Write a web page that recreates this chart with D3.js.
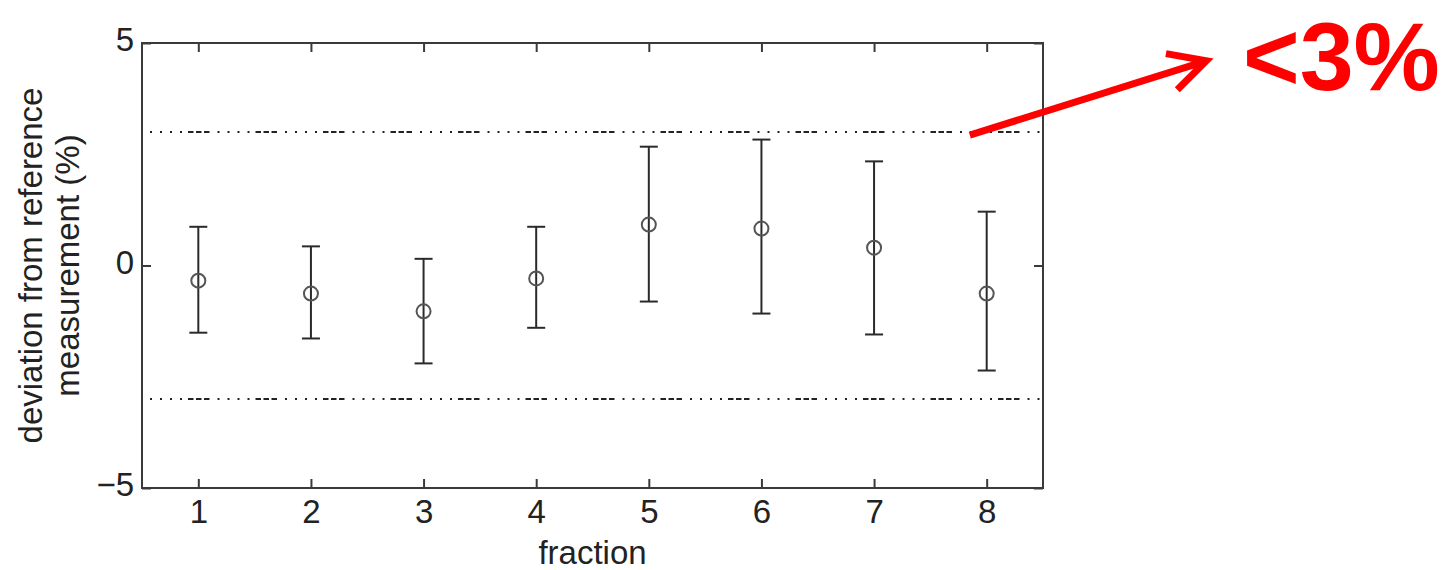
<!DOCTYPE html>
<html>
<head>
<meta charset="utf-8">
<script src="https://cdn.jsdelivr.net/npm/d3@7"></script>
<style>
  html, body { margin: 0; padding: 0; background: #fff; }
  svg { display: block; }
  text { font-family: "Liberation Sans", Arial, sans-serif; }
</style>
</head>
<body>
<svg id="chart" width="1449" height="570"></svg>
<script>
// ---- data ----
const fractions = [1, 2, 3, 4, 5, 6, 7, 8];
const meanDeviation = [-0.34, -0.63, -1.03, -0.29, 0.92, 0.83, 0.40, -0.63];
const upperBound   = [0.87, 0.43, 0.15, 0.87, 2.67, 2.83, 2.34, 1.21];
const lowerBound   = [-1.51, -1.64, -2.20, -1.40, -0.81, -1.08, -1.55, -2.36];
const limitLines = [3, -3];
const xTicks = [1, 2, 3, 4, 5, 6, 7, 8];
const yTicks = [-5, 0, 5];
const annotationText = "<3%";

// ---- layout ----
const svg = d3.select("#chart");
const plot = { left: 142, right: 1043, top: 43, bottom: 488 };
const x = d3.scaleLinear().domain([0.5, 8.5]).range([plot.left, plot.right]);
const y = d3.scaleLinear().domain([-5, 5]).range([plot.bottom, plot.top]);
const axisColor = "#3a3a3a";
const tickLen = 9;

// limit lines (dash-dot pattern)
svg.append("g").selectAll("line").data(limitLines).join("line")
  .attr("x1", x(0.5) + 8).attr("x2", x(8.5) - 2)
  .attr("y1", d => y(d)).attr("y2", d => y(d))
  .attr("stroke", "#222").attr("stroke-width", 2)
  .attr("stroke-dasharray", "2,8,2,8,2,8,2,6,5.5,2.5,5.5,2.5,5.5,8");

// frame
svg.append("rect")
  .attr("x", plot.left).attr("y", plot.top)
  .attr("width", plot.right - plot.left).attr("height", plot.bottom - plot.top)
  .attr("fill", "none").attr("stroke", axisColor).attr("stroke-width", 2);

// axes via d3 (inner ticks on all sides)
const fontSize = 33;
const bottomAxis = d3.axisBottom(x).tickValues(xTicks).tickSize(-tickLen).tickPadding(tickLen + 6).tickFormat(d3.format("d"));
const gB = svg.append("g").attr("transform", `translate(0,${plot.bottom})`).call(bottomAxis);
const topAxis = d3.axisTop(x).tickValues(xTicks).tickSize(-tickLen).tickFormat("");
const gT = svg.append("g").attr("transform", `translate(0,${plot.top})`).call(topAxis);
const leftAxis = d3.axisLeft(y).tickValues(yTicks).tickSize(-tickLen).tickPadding(8)
  .tickFormat(d => d < 0 ? "\u2212" + Math.abs(d) : String(d));
const gL = svg.append("g").attr("transform", `translate(${plot.left},0)`).call(leftAxis);
const rightAxis = d3.axisRight(y).tickValues(yTicks).tickSize(-tickLen).tickFormat("");
const gR = svg.append("g").attr("transform", `translate(${plot.right},0)`).call(rightAxis);

[gB, gT, gL, gR].forEach(g => {
  g.select(".domain").remove();
  g.selectAll(".tick line").attr("stroke", axisColor).attr("stroke-width", 2);
  g.selectAll("text").attr("font-size", fontSize).attr("fill", "#222")
    .style("font-family", "'Liberation Sans', Arial, sans-serif");
});
gB.selectAll("text").attr("dy", null).attr("y", 35);
gL.selectAll("text").attr("dy", "0.33em").attr("transform", "translate(0,-3)");

// axis labels
svg.append("text")
  .attr("x", (plot.left + plot.right) / 2).attr("y", 564)
  .attr("text-anchor", "middle").attr("font-size", fontSize).attr("fill", "#222")
  .text("fraction");

const yLabel = svg.append("g")
  .attr("transform", `translate(0,${(plot.top + plot.bottom) / 2}) rotate(-90)`);
yLabel.append("text").attr("x", 0).attr("y", 42)
  .attr("text-anchor", "middle").attr("font-size", fontSize).attr("fill", "#222")
  .text("deviation from reference");
yLabel.append("text").attr("x", 0).attr("y", 79)
  .attr("text-anchor", "middle").attr("font-size", fontSize).attr("fill", "#222")
  .text("measurement (%)");

// error bars
const data = fractions.map((f, i) => ({ f, m: meanDeviation[i], hi: upperBound[i], lo: lowerBound[i] }));
const capW = 9;
const eb = svg.append("g").selectAll("g").data(data).join("g");
eb.append("line")
  .attr("x1", d => x(d.f)).attr("x2", d => x(d.f))
  .attr("y1", d => y(d.hi)).attr("y2", d => y(d.lo))
  .attr("stroke", "#2a2a2a").attr("stroke-width", 2);
eb.append("line")
  .attr("x1", d => x(d.f) - capW).attr("x2", d => x(d.f) + capW)
  .attr("y1", d => y(d.hi)).attr("y2", d => y(d.hi))
  .attr("stroke", "#2a2a2a").attr("stroke-width", 2);
eb.append("line")
  .attr("x1", d => x(d.f) - capW).attr("x2", d => x(d.f) + capW)
  .attr("y1", d => y(d.lo)).attr("y2", d => y(d.lo))
  .attr("stroke", "#2a2a2a").attr("stroke-width", 2);
eb.append("circle")
  .attr("cx", d => x(d.f)).attr("cy", d => y(d.m)).attr("r", 7)
  .attr("fill", "none").attr("stroke", "#555").attr("stroke-width", 2);

// red annotation arrow + text
const aStart = [x(7.85), y(2.93)];
const aTip = [x(9.95), y(4.6)];
const ang = Math.atan2(aTip[1] - aStart[1], aTip[0] - aStart[0]);
const headLen = 41, headAng = 0.48;
const w1 = [aTip[0] - headLen * Math.cos(ang - headAng), aTip[1] - headLen * Math.sin(ang - headAng)];
const w2 = [aTip[0] - headLen * Math.cos(ang + headAng), aTip[1] - headLen * Math.sin(ang + headAng)];
svg.append("path")
  .attr("d", `M${aStart[0]},${aStart[1]}L${aTip[0]},${aTip[1]}M${w1[0]},${w1[1]}L${aTip[0]},${aTip[1]}L${w2[0]},${w2[1]}`)
  .attr("fill", "none").attr("stroke", "#ff0000").attr("stroke-width", 7)
  .attr("stroke-linejoin", "miter").attr("stroke-linecap", "butt");
svg.append("text")
  .attr("x", 1243).attr("y", 90)
  .attr("font-size", 97).attr("font-weight", "bold").attr("fill", "#ff0000")
  .text(annotationText);
</script>
</body>
</html>
